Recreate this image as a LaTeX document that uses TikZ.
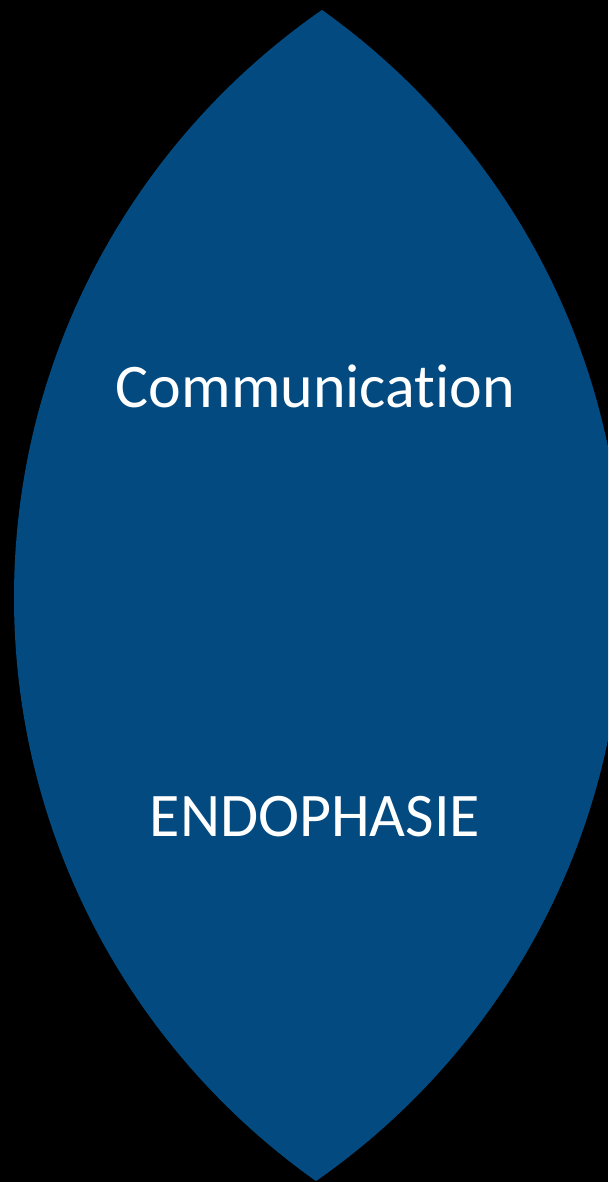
\documentclass[tikz,border=0pt]{standalone}
\usepackage{fontspec}
\setmainfont{Carlito}[Ligatures={NoCommon}]
\definecolor{lensblue}{RGB}{2,74,128}
\begin{document}
\begin{tikzpicture}[x=1pt,y=-1pt,
  lbl/.style={text=white,anchor=base,inner sep=0pt,font=\fontsize{62}{74}\selectfont}]
\fill[black] (0,0) rectangle (608,1182);
\useasboundingbox (0,0) rectangle (608,1182);
\begin{scope}
  \clip (0,0) rectangle (608,1182);
  \clip (728.5,597.6) circle[radius=714.5];
  \fill[lensblue] (-92.8,593.4) circle[radius=715.8];
\end{scope}
\node[lbl] (comm) at (315.5,407) {Communication};
\node[lbl] (endo) at (315,836) {ENDOPHASIE};
\end{tikzpicture}
\end{document}
